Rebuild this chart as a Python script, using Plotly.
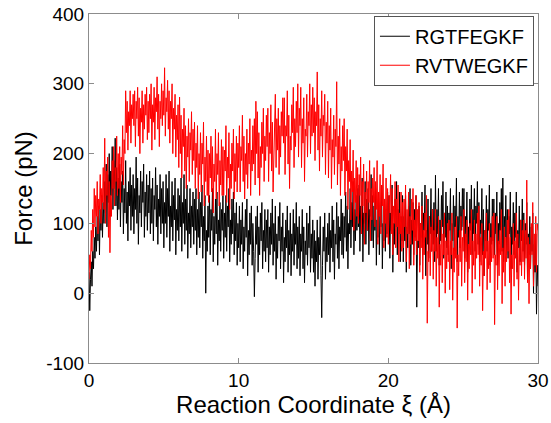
import numpy as np
import plotly.graph_objects as go

# Reaction coordinate sampling (Å): 20 samples per Å
xi = np.linspace(0, 30, 601)

# Force values (pN)
force_rgtfegkf = [
    30, -25, 20, 45, 10, 60, 35, 80, 50, 95, 60, 110, 75, 125, 55, 120, 90, 140, 80, 130,
    100, 160, 115, 185, 95, 170, 130, 200, 110, 175, 140, 210, 120, 190, 150, 222, 125, 180, 105, 165,
    120, 185, 95, 160, 130, 175, 85, 150, 115, 190, 100, 145, 75, 160, 125, 180, 90, 155, 110, 170,
    85, 150, 120, 195, 100, 165, 70, 140, 115, 175, 95, 160, 130, 185, 80, 145, 110, 170, 90, 155,
    115, 175, 85, 150, 100, 165, 75, 140, 120, 180, 95, 155, 70, 135, 110, 170, 85, 150, 100, 160,
    65, 130, 100, 170, 80, 150, 110, 175, 60, 125, 95, 160, 75, 140, 105, 165, 55, 120, 90, 150,
    75, 140, 95, 165, 60, 130, 100, 170, 70, 135, 90, 155, 50, 115, 85, 150, 65, 125, 95, 145,
    70, 135, 90, 150, 55, 120, 80, 145, 65, 130, 95, 155, 50, 110, 75, 140, 0, 90, 60, 125,
    80, 140, 55, 120, 90, 150, 45, 110, 70, 135, 85, 145, 40, 105, 75, 130, 60, 120, 90, 140,
    50, 115, 80, 140, 60, 125, 95, 150, 45, 105, 70, 135, 85, 145, 55, 115, 75, 130, 40, 100,
    65, 125, 45, 105, 70, 130, 35, 95, 60, 120, 80, 135, 25, 90, 55, 115, 70, 125, 40, 100,
    60, -5, 50, 110, 70, 125, 30, 95, 55, 115, 75, 130, 35, 90, 60, 120, 45, 105, 65, 120,
    30, 95, 55, 115, 70, 135, 40, 100, 60, 125, 20, 85, 50, 110, 75, 130, 35, 95, 60, 115,
    15, 80, 45, 105, 65, 125, 30, 90, 55, 115, 25, 85, 60, 120, 40, 100, 70, 130, 35, 95,
    50, 110, 25, 85, 60, 120, 35, 95, 15, 75, 55, 115, 40, 100, 65, 125, 30, 85, 50, 105,
    30, 90, 10, 75, 45, 105, 20, 80, 55, 110, 25, -35, 40, 95, 60, 115, 20, 80, 45, 100,
    55, 115, 30, 90, 65, 125, 45, 105, 20, 85, 70, 130, 50, 110, 35, 95, 75, 135, 55, 115,
    50, 110, 80, 145, 60, 125, 35, 100, 85, 150, 65, 130, 95, 160, 55, 120, 75, 140, 90, 150,
    95, 155, 60, 125, 85, 165, 45, 115, 100, 160, 70, 135, 90, 150, 55, 120, 110, 170, 75, 140,
    65, 125, 90, 150, 40, 105, 80, 145, 55, 120, 95, 155, 35, 100, 75, 135, 60, 120, 85, 145,
    80, 140, 50, 115, 90, 155, 30, 100, 70, 135, 95, 160, 55, 120, 85, 145, 45, 110, 75, 140,
    45, 110, 75, 140, 30, 95, 65, 125, 85, 150, 40, 105, 70, 130, 55, 120, 80, 140, -20, 75,
    65, 125, 40, 100, 80, 145, 55, 115, 90, 155, 25, 90, 70, 135, 50, 110, 85, 150, 60, 120,
    70, 130, 45, 169, 60, 120, 85, 150, 40, 105, 75, 140, 95, 160, 50, 115, 80, 145, 65, 125,
    55, 115, 90, 150, 35, 100, 75, 140, 60, 125, 95, 165, 45, 110, 80, 145, 65, 125, 90, 150,
    95, 150, 50, 110, 80, 145, 30, 95, 70, 135, 90, 155, 55, 120, 85, 150, 60, 125, 100, 160,
    70, 130, 45, 105, 85, 150, 55, 120, 25, 90, 75, 140, 60, 120, 90, 155, 40, 100, 70, 135,
    75, 135, 55, 115, 85, 145, 40, 100, 70, 130, 90, 150, 60, 165, 45, 110, 80, 140, 55, 120,
    50, 110, 85, 145, 35, 95, 70, 130, 55, 115, 80, 145, 30, 90, 65, 125, 45, 105, 75, 135,
    60, 115, 40, 100, 70, 130, 20, 85, 55, 110, 35, 95, 60, 115, 0, 70, 30, 85, -30, 40,
    10,
]

force_rvtwegkf = [
    20, 55, 35, 90, 60, 120, 80, 150, 95, 140, 110, 160, 85, 135, 120, 170, 100, 150, 130, 180,
    120, 222, 100, 175, 140, 195, 80, 160, 58, 140, 110, 190, 150, 210, 125, 180, 160, 225, 140, 200,
    150, 210, 130, 195, 170, 240, 155, 220, 200, 290, 230, 275, 205, 260, 240, 290, 215, 270, 250, 285,
    240, 290, 210, 275, 250, 295, 225, 280, 200, 265, 245, 290, 215, 270, 235, 285, 255, 295, 220, 275,
    230, 285, 250, 300, 205, 270, 245, 295, 220, 280, 260, 310, 235, 285, 210, 275, 250, 300, 240, 290,
    255, 323, 225, 280, 260, 305, 235, 290, 215, 275, 250, 300, 200, 265, 235, 285, 195, 255, 220, 270,
    180, 281, 200, 255, 165, 235, 210, 265, 175, 240, 150, 225, 195, 250, 160, 230, 205, 260, 170, 235,
    190, 245, 150, 215, 180, 240, 135, 200, 170, 230, 145, 215, 185, 245, 125, 195, 160, 225, 140, 205,
    130, 200, 165, 225, 145, 210, 115, 185, 160, 235, 135, 200, 170, 230, 125, 190, 155, 220, 140, 210,
    140, 205, 175, 240, 130, 195, 165, 230, 120, 185, 150, 215, 175, 235, 135, 200, 160, 225, 145, 215,
    180, 240, 145, 210, 190, 255, 160, 225, 135, 200, 170, 235, 150, 215, 185, 250, 140, 205, 175, 240,
    185, 250, 155, 275, 200, 260, 165, 230, 140, 210, 180, 245, 200, 265, 160, 225, 190, 255, 210, 265,
    160, 230, 200, 270, 175, 245, 145, 215, 220, 285, 180, 250, 205, 265, 170, 240, 195, 260, 225, 280,
    215, 280, 170, 240, 225, 290, 185, 255, 150, 225, 205, 270, 230, 295, 180, 250, 210, 275, 230, 300,
    195, 265, 240, 295, 180, 250, 215, 280, 160, 235, 225, 285, 195, 260, 240, 300, 200, 270, 225, 295,
    230, 280, 190, 260, 240, 317, 205, 270, 175, 250, 225, 290, 195, 255, 240, 285, 170, 245, 215, 275,
    165, 240, 205, 265, 150, 220, 195, 255, 170, 235, 210, 303, 155, 225, 185, 250, 140, 210, 175, 240,
    190, 250, 140, 210, 175, 235, 120, 190, 160, 220, 105, 175, 145, 205, 90, 165, 130, 190, 110, 180,
    100, 170, 140, 195, 85, 160, 125, 185, 70, 145, 115, 175, 90, 160, 130, 190, 75, 150, 105, 165,
    130, 180, 95, 160, 120, 190, 70, 145, 110, 170, 85, 155, 125, 185, 65, 135, 100, 165, 80, 150,
    70, 140, 115, 170, 85, 150, 55, 125, 100, 160, 65, 135, 95, 155, 45, 115, 85, 145, 60, 130,
    65, 135, 95, 155, 45, 120, 85, 145, 35, 110, 70, 135, 90, 150, 40, 105, 75, 140, 55, 120,
    75, 130, 30, 100, 65, 125, 20, 90, 55, 115, 80, 140, -43, 60, 45, 110, 25, 95, 60, 120,
    20, 90, 60, 120, 10, 80, 50, 110, -20, 70, 40, 105, 15, 85, 55, 115, 0, 75, 35, 100,
    45, 105, 5, 75, 55, 115, -10, 65, 30, 95, 50, 110, -50, 55, 25, 90, 45, 110, 10, 80,
    60, 120, 15, 85, 45, 105, -10, 70, 35, 100, 55, 120, 0, 75, 40, 105, 20, 85, 50, 115,
    55, 125, 10, 80, 40, 100, -25, 60, 25, 90, 50, 115, 5, 75, 35, 100, 15, 80, 45, 110,
    50, 115, -45, 55, 40, 110, 5, 75, 25, 90, 55, 120, -15, 65, 30, 95, 10, 80, 45, 105,
    60, 120, 15, 80, -30, 55, 35, 100, 10, 75, 50, 115, 20, 85, -10, 65, 40, 105, 25, 90,
    45, 105, 20, 90, 50, 162, 15, 80, -15, 70, 35, 100, 55, 130, 10, 85, 40, 110, 30, 100,
    90,
]

x_ticks = [0, 10, 20, 30]
y_ticks = [-100, 0, 100, 200, 300, 400]

FONT = "Liberation Sans, Arial, Helvetica, sans-serif"
AXIS_GRAY = "#8c8c8c"

fig = go.Figure()
fig.add_trace(go.Scatter(x=xi, y=force_rgtfegkf, mode="lines", name="RGTFEGKF",
                         line=dict(color="black", width=1)))
fig.add_trace(go.Scatter(x=xi, y=force_rvtwegkf, mode="lines", name="RVTWEGKF",
                         line=dict(color="#ff0000", width=1)))

axis_common = dict(
    showgrid=False, zeroline=False, showline=True, linecolor=AXIS_GRAY, linewidth=1,
    mirror="ticks", ticks="inside", ticklen=5, tickcolor=AXIS_GRAY, tickwidth=1,
    tickfont=dict(family=FONT, size=19, color="black"), automargin=False,
    ticklabeloverflow="allow",
)

fig.update_xaxes(range=[0, 30], tickvals=x_ticks, ticktext=[str(v) for v in x_ticks],
                 title=dict(text="Reaction Coordinate ξ (Å)",
                            font=dict(family=FONT, size=24, color="black"), standoff=5),
                 **axis_common)
fig.update_yaxes(range=[-100, 400], tickvals=y_ticks, ticktext=[str(v) for v in y_ticks],
                 title=dict(text="Force (pN)",
                            font=dict(family=FONT, size=24, color="black"), standoff=6),
                 **axis_common)

fig.update_layout(
    width=551, height=423,
    margin=dict(l=89, r=13, t=14, b=60),
    paper_bgcolor="white", plot_bgcolor="white",
    showlegend=True,
    legend=dict(x=0.991, y=0.995, xanchor="right", yanchor="top",
                bgcolor="white", bordercolor="#555555", borderwidth=1,
                font=dict(family=FONT, size=20, color="black"),
                tracegroupgap=0, itemwidth=30),
)

# remove the page's default body margin so the figure fills the window exactly
fig.write_html("out.html", config={"displayModeBar": False},
               post_script="document.body.style.margin='0';")
